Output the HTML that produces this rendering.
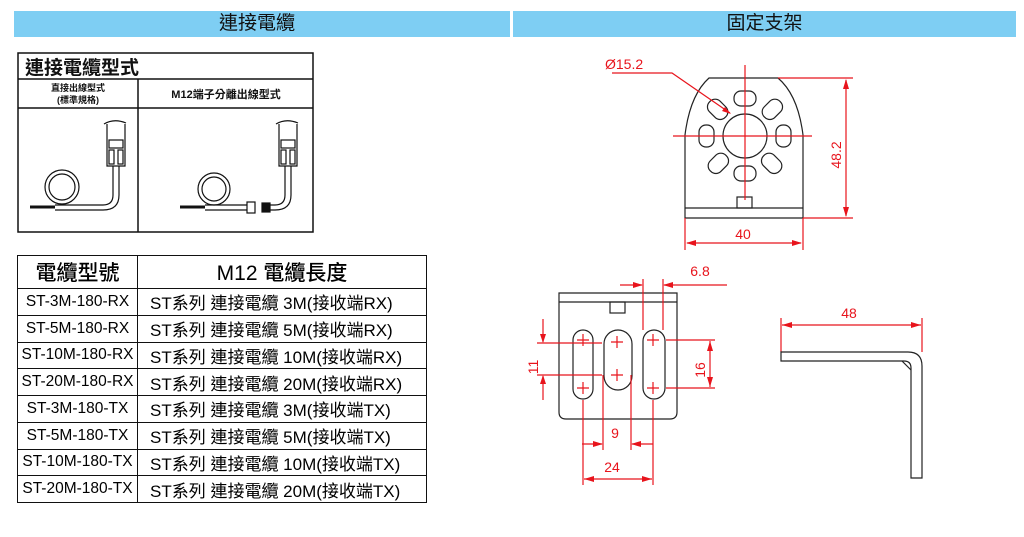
<!DOCTYPE html>
<html><head><meta charset="utf-8"><style>
body{margin:0;width:1024px;height:537px;background:#fff;position:relative;overflow:hidden;font-family:"Liberation Sans","Noto Sans CJK TC",sans-serif}
.bar{position:absolute;top:11px;height:26px;background:#7ecef3;font-size:19px;line-height:26px;text-align:center;color:#111}
.t{position:absolute;border-collapse:collapse;font-family:"Liberation Sans","Noto Sans CJK TC",sans-serif}
.t td{border:1.5px solid #111;padding:0;white-space:nowrap}
.t td.a{text-align:center;font-size:15.5px}
.t td.b{padding-left:12px;font-size:17px}
svg{position:absolute;left:0;top:0}
</style></head><body>
<div class="bar" style="left:14px;width:496px;text-indent:-10px">連接電纜</div>
<div class="bar" style="left:513px;width:503px">固定支架</div>

<svg width="1024" height="537" font-family="Liberation Sans, Noto Sans CJK TC, sans-serif">
<g stroke="#111" stroke-width="1.5" fill="none">
<rect x="18" y="53" width="295" height="179"/>
<line x1="18" y1="79" x2="313" y2="79"/>
<line x1="18" y1="108" x2="313" y2="108"/>
<line x1="138" y1="79" x2="138" y2="232"/>
</g>
<text x="25" y="74" font-size="19" font-weight="bold" fill="#111">連接電纜型式</text>
<text x="78" y="91" font-size="9" font-weight="bold" text-anchor="middle" fill="#111">直接出線型式</text>
<text x="78" y="103" font-size="9" font-weight="bold" text-anchor="middle" fill="#111">(標準規格)</text>
<text x="226" y="98" font-size="11" font-weight="bold" text-anchor="middle" fill="#111">M12端子分離出線型式</text>
<g stroke="#111" stroke-width="1.2" fill="none">
<path d="M104 124 Q114 118 126 123 M107 124 V166 H125 V124"/>
<rect x="109" y="140" width="14" height="8"/>
<rect x="109" y="150" width="5" height="14"/><rect x="118" y="150" width="5" height="14"/>
<path d="M113 166 V195 Q113 205 103 205 H55"/>
<path d="M119 166 V195 Q119 210 103 210 H55"/>
<circle cx="62" cy="187" r="17"/><circle cx="62" cy="187" r="13"/>
<line x1="30" y1="207" x2="55" y2="207" stroke-width="3"/>
</g>
<g stroke="#111" stroke-width="1.2" fill="none">
<path d="M276 124 Q286 118 298 123 M279 124 V166 H297 V124"/>
<rect x="281" y="140" width="14" height="8"/>
<rect x="281" y="150" width="5" height="14"/><rect x="290" y="150" width="5" height="14"/>
<path d="M285 166 V195 Q285 205 275 205 H270"/>
<path d="M291 166 V195 Q291 210 275 210 H270"/>
<rect x="262" y="203" width="8" height="9" fill="#111"/>
<circle cx="214" cy="189" r="16"/><circle cx="214" cy="189" r="12"/>
<path d="M205 205 H247 M205 210 H247"/>
<rect x="247" y="202" width="8" height="11"/>
<line x1="180" y1="207" x2="205" y2="207" stroke-width="3"/>
</g>

<g stroke="#222" stroke-width="1.2" fill="none">
<path d="M685 218 V135 Q690 95 709 78 H778 Q798 95 803 135 V218 Z"/>
<line x1="685" y1="208" x2="803" y2="208"/>
<rect x="737" y="197" width="15" height="11"/>
<circle cx="745" cy="136" r="22"/>
<rect x="734" y="91" width="22" height="15" rx="7"/>
<rect x="734" y="166" width="22" height="15" rx="7"/>
<rect x="699" y="125" width="15" height="22" rx="7"/>
<rect x="776" y="125" width="15" height="22" rx="7"/>
<rect x="707" y="102" width="22" height="15" rx="7" transform="rotate(45 718 109)"/>
<rect x="761" y="102" width="22" height="15" rx="7" transform="rotate(-45 772 109)"/>
<rect x="707" y="156" width="22" height="15" rx="7" transform="rotate(-45 718 163)"/>
<rect x="761" y="156" width="22" height="15" rx="7" transform="rotate(45 772 163)"/>
</g>
<g stroke="#e8141c" stroke-width="1.2" fill="none">
<line x1="673" y1="136" x2="812" y2="136"/>
<line x1="745" y1="65" x2="745" y2="200"/>
<path d="M612 73 H672 L730 113"/>
<line x1="778" y1="78" x2="853" y2="78"/><line x1="803" y1="218" x2="853" y2="218"/>
<line x1="846" y1="80" x2="846" y2="216"/>
<line x1="685" y1="218" x2="685" y2="250"/><line x1="803" y1="218" x2="803" y2="250"/>
<line x1="687" y1="243" x2="801" y2="243"/>
</g>
<g fill="#e8141c">
<path d="M731 114 L722 111 L725 107Z"/>
<path d="M846 79 L843 89 H849Z"/><path d="M846 217 L843 207 H849Z"/>
<path d="M686 243 L696 240 V246Z"/><path d="M802 243 L792 240 V246Z"/>
</g>
<g fill="#e8141c" font-size="14">
<text x="605" y="69">Ø15.2</text>
<text x="743" y="239" text-anchor="middle">40</text>
<text x="0" y="0" transform="translate(841 155) rotate(-90)" text-anchor="middle">48.2</text>
<text x="700" y="276" text-anchor="middle">6.8</text>
<text x="849" y="318" text-anchor="middle">48</text>
<text x="615" y="438" text-anchor="middle">9</text>
<text x="612" y="472" text-anchor="middle">24</text>
<text x="0" y="0" transform="translate(538 367) rotate(-90)" text-anchor="middle">11</text>
<text x="0" y="0" transform="translate(705 370) rotate(-90)" text-anchor="middle">16</text>
</g>

<g stroke="#222" stroke-width="1.2" fill="none">
<path d="M559 293 H677 V412 Q677 419 670 419 H566 Q559 419 559 412 Z"/>
<line x1="559" y1="302" x2="677" y2="302"/>
<rect x="610" y="302" width="15" height="11"/>
<rect x="573" y="330" width="20" height="69" rx="10"/>
<rect x="604" y="330" width="28" height="60" rx="14"/>
<rect x="643" y="330" width="22" height="69" rx="11"/>
</g>
<g stroke="#e8141c" stroke-width="1.2" fill="none">
<path d="M577 340 h12 M583 334 v12 M577 388 h12 M583 382 v12 M611 342 h12 M617 336 v12 M611 375 h12 M617 369 v12 M647 340 h12 M653 334 v12 M647 388 h12 M653 382 v12"/>
<line x1="537" y1="343" x2="602" y2="343"/><line x1="537" y1="375" x2="602" y2="375"/>
<line x1="543" y1="319" x2="543" y2="342"/><line x1="543" y1="376" x2="543" y2="400"/>
<line x1="666" y1="340" x2="715" y2="340"/><line x1="666" y1="388" x2="715" y2="388"/>
<line x1="710" y1="341" x2="710" y2="387"/>
<line x1="643" y1="279" x2="643" y2="330"/><line x1="663" y1="279" x2="663" y2="330"/>
<line x1="620" y1="285" x2="642" y2="285"/><line x1="664" y1="285" x2="727" y2="285"/>
<line x1="603" y1="375" x2="603" y2="450"/><line x1="631" y1="375" x2="631" y2="450"/>
<line x1="582" y1="444" x2="602" y2="444"/><line x1="632" y1="444" x2="653" y2="444"/>
<line x1="583" y1="400" x2="583" y2="485"/><line x1="653" y1="400" x2="653" y2="485"/>
<line x1="584" y1="479" x2="652" y2="479"/>
<line x1="781" y1="318" x2="781" y2="352"/><line x1="922" y1="318" x2="922" y2="352"/>
<line x1="782" y1="325" x2="921" y2="325"/>
</g>
<g fill="#e8141c">
<path d="M543 343 L540 334 H546Z"/><path d="M543 375 L540 384 H546Z"/>
<path d="M710 341 L707 351 H713Z"/><path d="M710 387 L707 377 H713Z"/>
<path d="M643 285 L633 282 V288Z"/><path d="M663 285 L673 282 V288Z"/>
<path d="M603 444 L593 441 V447Z"/><path d="M631 444 L641 441 V447Z"/>
<path d="M584 479 L594 476 V482Z"/><path d="M652 479 L642 476 V482Z"/>
<path d="M782 325 L792 322 V328Z"/><path d="M921 325 L911 322 V328Z"/>
</g>
<g stroke="#222" stroke-width="1.2" fill="none">
<path d="M781 352 H908 Q922 352 922 366 V478 H911 V368 Q911 361 904 361 H781 Z"/>
<line x1="902" y1="361" x2="911" y2="370"/>
</g>
</svg>

<table class="t" style="left:17px;top:255px;width:410px;height:248px">
<colgroup><col style="width:120px"><col></colgroup>
<tr style="height:33px"><td style="text-align:center;font-size:21px;font-weight:500">電纜型號</td><td style="text-align:center;font-size:21px;font-weight:500">M12 電纜長度</td></tr>
<tr><td class="a">ST-3M-180-RX</td><td class="b">ST系列 連接電纜 3M(接收端RX)</td></tr>
<tr><td class="a">ST-5M-180-RX</td><td class="b">ST系列 連接電纜 5M(接收端RX)</td></tr>
<tr><td class="a">ST-10M-180-RX</td><td class="b">ST系列 連接電纜 10M(接收端RX)</td></tr>
<tr><td class="a">ST-20M-180-RX</td><td class="b">ST系列 連接電纜 20M(接收端RX)</td></tr>
<tr><td class="a">ST-3M-180-TX</td><td class="b">ST系列 連接電纜 3M(接收端TX)</td></tr>
<tr><td class="a">ST-5M-180-TX</td><td class="b">ST系列 連接電纜 5M(接收端TX)</td></tr>
<tr><td class="a">ST-10M-180-TX</td><td class="b">ST系列 連接電纜 10M(接收端TX)</td></tr>
<tr><td class="a">ST-20M-180-TX</td><td class="b">ST系列 連接電纜 20M(接收端TX)</td></tr>
</table>
</body></html>
